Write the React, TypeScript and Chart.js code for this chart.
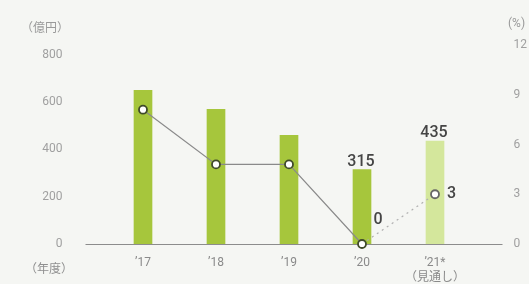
import React, { useEffect, useRef } from "react";
import { Chart, registerables } from "chart.js";

Chart.register(...registerables);

const categories: (string | string[])[] = ["’17", "’18", "’19", "’20", ["’21*", "（見通し）"]];
const salesValues = [650, 570, 460, 315, 435]; // 億円
const rateValues = [8.1, 4.8, 4.8, 0, 3]; // %
const leftTicks = [0, 200, 400, 600, 800];
const rightTicks = [0, 3, 6, 9, 12];
const barLabelShown = [false, false, false, true, true];
const lineLabelShown = [false, false, false, true, true];

const BAR = "#a6c63c";
const BAR_LIGHT = "#d4e79c";

const labelPlugin = {
  id: "labelsAndDecor",
  beforeDatasetsDraw(chart: any) {
    const { ctx, chartArea } = chart;
    ctx.save();
    // baseline
    ctx.strokeStyle = "#8c8c8c";
    ctx.lineWidth = 1;
    ctx.beginPath();
    ctx.moveTo(chartArea.left - 21, chartArea.bottom + 0.5);
    ctx.lineTo(chartArea.right + 31, chartArea.bottom + 0.5);
    ctx.stroke();
    // axis titles
    ctx.fillStyle = "#9a9a9a";
    ctx.font = "12px 'Noto Sans CJK JP'";
    ctx.textBaseline = "middle";
    ctx.textAlign = "left";
    ctx.fillText("（億円）", 21, 27);
    ctx.fillStyle = "#8f8f8f";
    ctx.fillText("（年度）", 25, 268);
    ctx.fillStyle = "#9a9a9a";
    ctx.font = "12px Roboto";
    ctx.fillText("(%)", 508, 24);
    ctx.restore();
  },
  afterDatasetsDraw(chart: any) {
    const { ctx } = chart;
    ctx.save();
    ctx.fillStyle = "#454545";
    ctx.font = "500 16px Roboto";
    const barMeta = chart.getDatasetMeta(0);
    barMeta.data.forEach((el: any, i: number) => {
      if (!barLabelShown[i]) return;
      ctx.textAlign = "center";
      ctx.textBaseline = "alphabetic";
      ctx.fillText(String(salesValues[i]), el.x - 1, el.y - 4);
    });
    const lineMeta = chart.getDatasetMeta(1);
    lineMeta.data.forEach((el: any, i: number) => {
      if (!lineLabelShown[i]) return;
      ctx.textBaseline = "middle";
      if (i === 3) {
        ctx.textAlign = "center";
        ctx.fillText(String(rateValues[i]), el.x + 16, el.y - 24);
      } else {
        ctx.textAlign = "left";
        ctx.fillText(String(rateValues[i]), el.x + 12, el.y);
      }
    });
    ctx.restore();
  },
};

export default function App() {
  const ref = useRef<HTMLCanvasElement | null>(null);
  useEffect(() => {
    if (!ref.current) return;
    const chart = new Chart(ref.current, {
      type: "bar",
      data: {
        labels: categories as any,
        datasets: [
          {
            type: "bar",
            data: salesValues,
            backgroundColor: salesValues.map((_, i) => (i === 4 ? BAR_LIGHT : BAR)),
            barThickness: 18,
            yAxisID: "y",
            order: 2,
          },
          {
            type: "line",
            data: rateValues,
            yAxisID: "y2",
            borderColor: "#8a8a8a",
            borderWidth: 1.2,
            pointRadius: 4,
            pointBorderWidth: 1.8,
            pointBackgroundColor: "#ffffff",
            pointBorderColor: rateValues.map((_, i) => (i === 4 ? "#666666" : "#3f4a2a")),
            segment: {
              borderDash: (c: any) => (c.p1DataIndex === 4 ? [2, 4] : undefined),
              borderColor: (c: any) => (c.p1DataIndex === 4 ? "#b0b0b0" : undefined),
            },
            order: 1,
            clip: false as any,
          } as any,
        ],
      },
      options: {
        animation: false,
        responsive: false,
        maintainAspectRatio: false,
        layout: { padding: { top: 45, left: 0, right: 0, bottom: 0 } },
        plugins: { legend: { display: false }, tooltip: { enabled: false } },
        scales: {
          x: {
            offset: true,
            grid: { display: false, drawTicks: false },
            border: { display: false },
            ticks: {
              color: "#8a8a8a",
              font: { family: "Roboto, 'Noto Sans CJK JP'", size: 12 },
              padding: 12,
              maxRotation: 0,
              autoSkip: false,
            },
            afterFit: (s: any) => {
              s.height = 40;
              s.paddingLeft = 0;
              s.paddingRight = 0;
            },
          },
          y: {
            position: "left",
            min: 0,
            max: 842.1,
            grid: { display: false, drawTicks: false },
            border: { display: false },
            ticks: {
              color: "#a0a0a0",
              font: { family: "Roboto", size: 12 },
              padding: 44,
            },
            afterBuildTicks: (s: any) => {
              s.ticks = leftTicks.map((v) => ({ value: v }));
            },
            afterFit: (s: any) => {
              s.width = 106.5;
              s.paddingTop = 0;
              s.paddingBottom = 0;
            },
          },
          y2: {
            position: "right",
            min: 0,
            max: 12,
            grid: { display: false, drawTicks: false },
            border: { display: false },
            ticks: {
              color: "#a0a0a0",
              font: { family: "Roboto", size: 12 },
              padding: 42,
            },
            afterBuildTicks: (s: any) => {
              s.ticks = rightTicks.map((v) => ({ value: v }));
            },
            afterFit: (s: any) => {
              s.width = 57.5;
              s.paddingTop = 0;
              s.paddingBottom = 0;
            },
          },
        },
      },
      plugins: [labelPlugin],
    });
    return () => chart.destroy();
  }, []);
  return (
    <div
      style={{
        position: "fixed",
        left: 0,
        top: 0,
        width: 529,
        height: 284,
        background: "#f5f6f3",
      }}
    >
      <canvas ref={ref} width={529} height={284} style={{ display: "block" }} />
    </div>
  );
}
